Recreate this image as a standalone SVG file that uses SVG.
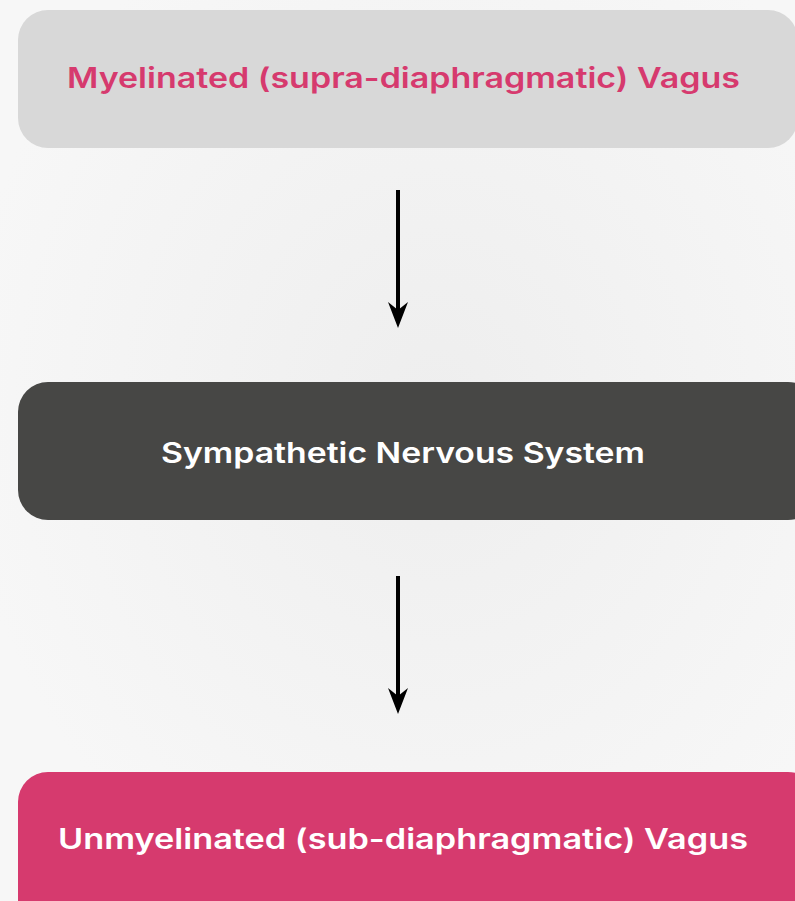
<svg xmlns="http://www.w3.org/2000/svg" width="795" height="901" viewBox="0 0 795 901">
<defs>
<style>
.lbl{font-family:"Inter","Open Sans","Liberation Sans",sans-serif;font-weight:600;font-size:28px;text-anchor:middle}
.conn{stroke:#000;stroke-width:4;fill:none}
</style>
<marker id="ah" viewBox="0 0 26 20" markerWidth="26" markerHeight="20" refX="10" refY="10" orient="auto" markerUnits="userSpaceOnUse">
<path d="M0,0 L8,10 L0,20 L26,10 Z" fill="#000"/>
</marker>
<radialGradient id="bgA" cx="0.55" cy="0.45" r="0.6">
<stop offset="0" stop-color="#eeeeee"/>
<stop offset="1" stop-color="#f7f7f7"/>
</radialGradient>
</defs>
<rect width="795" height="901" fill="url(#bgA)"/>
<g id="node-myelinated">
<rect x="18" y="10" width="780" height="138" rx="30" fill="#d8d8d8"/>
<text class="lbl" x="403.5" y="88" fill="#d63a6e" textLength="673" lengthAdjust="spacingAndGlyphs">Myelinated (supra-diaphragmatic) Vagus</text>
</g>
<g id="node-sympathetic">
<rect x="18" y="382" width="800" height="138" rx="30" fill="#474745"/>
<text class="lbl" x="403" y="463" fill="#ffffff" textLength="484" lengthAdjust="spacingAndGlyphs">Sympathetic Nervous System</text>
</g>
<g id="node-unmyelinated">
<rect x="18" y="772" width="800" height="160" rx="30" fill="#d63a6e"/>
<text class="lbl" x="403" y="849" fill="#ffffff" textLength="690" lengthAdjust="spacingAndGlyphs">Unmyelinated (sub-diaphragmatic) Vagus</text>
</g>
<g id="connectors">
<line class="conn" x1="398" y1="190" x2="398" y2="312" marker-end="url(#ah)"/>
<line class="conn" x1="398" y1="576" x2="398" y2="698" marker-end="url(#ah)"/>
</g>
</svg>
